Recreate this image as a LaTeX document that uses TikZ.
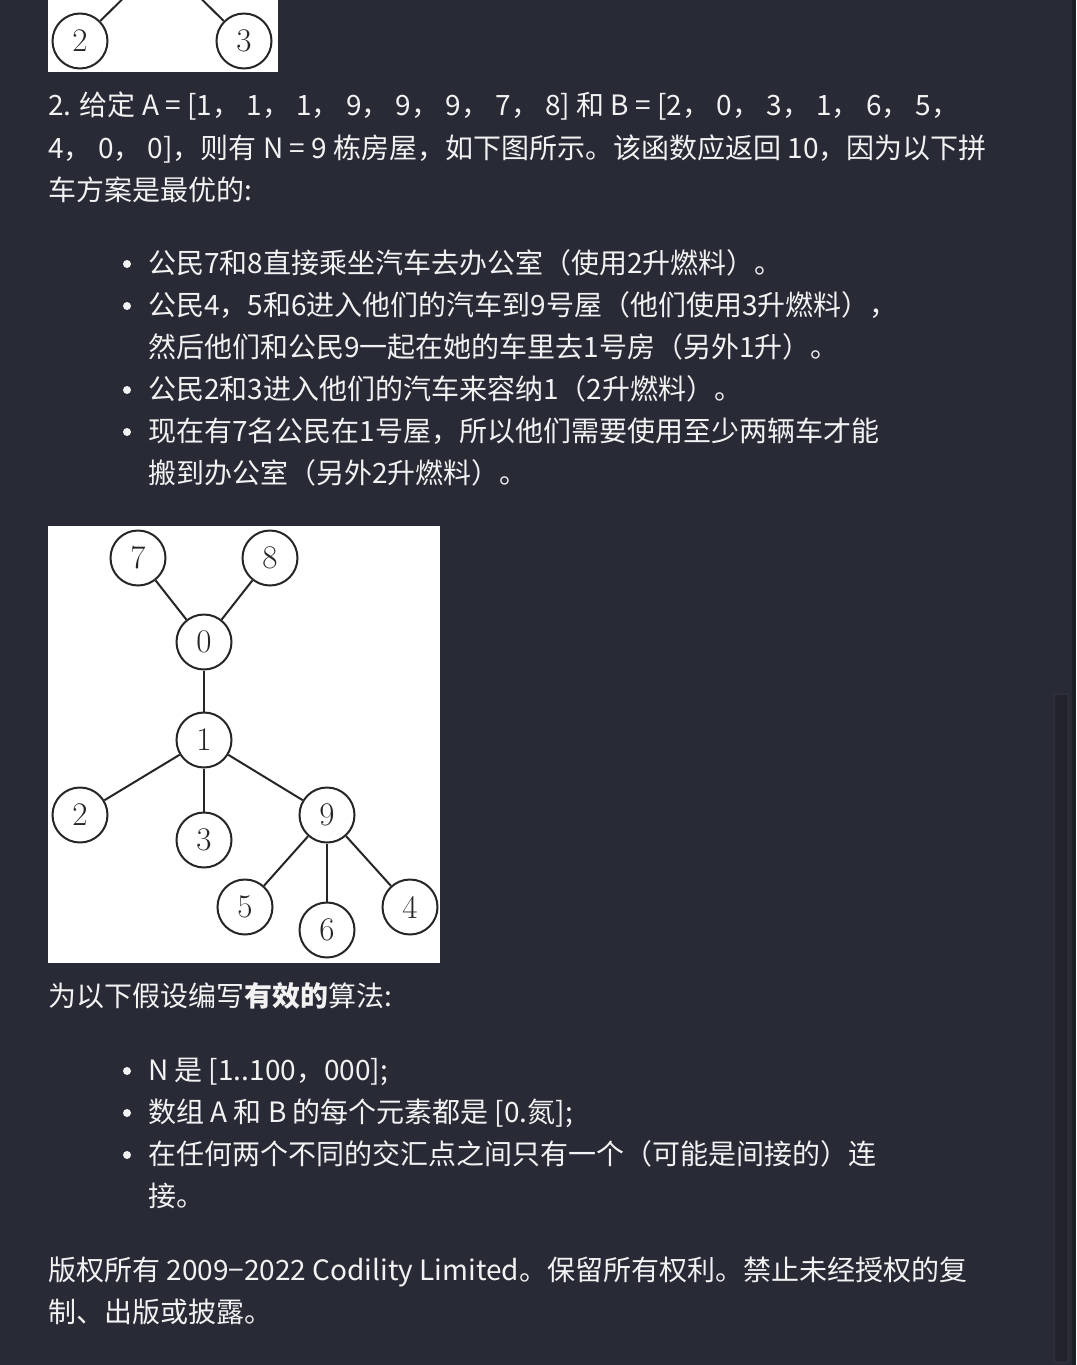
\documentclass[tikz,border=0pt]{standalone}
\usepackage{fontspec}
\setmainfont{Noto Sans CJK SC}
\newfontfamily\lmfont{Latin Modern Roman}
\definecolor{bg}{HTML}{282A36}
\definecolor{fg}{HTML}{F2F2F2}
\definecolor{ink}{HTML}{262626}
\definecolor{sbar}{HTML}{22232C}
\definecolor{sbarline}{HTML}{33353F}
\definecolor{edgestrip}{HTML}{1D1F27}
\begin{document}
\begin{tikzpicture}[x=1pt,y=-1pt,
  txt/.style={anchor=base west, inner sep=0pt, text=fg, font=\fontsize{28}{30}\selectfont},
  dot/.style={circle, fill=fg, minimum size=8pt, inner sep=0pt},
  house/.style={circle, draw=ink, line width=2pt, minimum size=55pt, inner sep=0pt, font=\lmfont\fontsize{33}{33}\selectfont, text=ink},
  edge/.style={draw=ink, line width=2pt}]
\fill[bg] (0,0) rectangle (1076,1365);
\useasboundingbox (0,0) rectangle (1076,1365);
% scrollbar
\fill[edgestrip] (1072,0) rectangle (1076,1365);
\filldraw[fill=sbar, draw=sbarline, line width=1pt, rounded corners=2pt] (1054,694) rectangle (1068,1362);
% top clipped image
\fill[white] (48,0) rectangle (278,72);
\begin{scope}
\clip (48,0) rectangle (278,72);
\node[house] (t2) at (80,41) {2};
\node[house] (t3) at (244,41) {3};
\coordinate (tp) at (162,-40);
\draw[edge] (t2) -- (tp);
\draw[edge] (t3) -- (tp);
\end{scope}
% paragraph 2
\node[txt] (l1) at (48,115) {2. 给定 A = [1， 1， 1， 9， 9， 9， 7， 8] 和 B = [2， 0， 3， 1， 6， 5，};
\node[txt] (l2) at (48,158) {4， 0， 0]，则有 N = 9 栋房屋，如下图所示。该函数应返回 10，因为以下拼};
\node[txt] (l3) at (48,200) {车方案是最优的:};
% bullets
\node[dot] (b1) at (127,264) {};
\node[txt] (s1) at (148,273) {公民7和8直接乘坐汽车去办公室（使用2升燃料）。};
\node[dot] (b2) at (127,306) {};
\node[txt] (s2) at (148,315) {公民4，5和6进入他们的汽车到9号屋（他们使用3升燃料），};
\node[txt] (s2b) at (148,357) {然后他们和公民9一起在她的车里去1号房（另外1升）。};
\node[dot] (b3) at (127,390) {};
\node[txt] (s3) at (148,399) {公民2和3进入他们的汽车来容纳1（2升燃料）。};
\node[dot] (b4) at (127,432) {};
\node[txt] (s4) at (148,441) {现在有7名公民在1号屋，所以他们需要使用至少两辆车才能};
\node[txt] (s4b) at (148,483) {搬到办公室（另外2升燃料）。};
% tree image
\fill[white] (48,526) rectangle (440,963);
\node[house] (n7) at (138,558) {7};
\node[house] (n8) at (270,558) {8};
\node[house] (n0) at (204,642) {0};
\node[house] (n1) at (204,740) {1};
\node[house] (n2) at (80,815) {2};
\node[house] (n3) at (204,840) {3};
\node[house] (n9) at (327,815) {9};
\node[house] (n5) at (245,907) {5};
\node[house] (n6) at (327,930) {6};
\node[house] (n4) at (410,907) {4};
\draw[edge] (n7) -- (n0);
\draw[edge] (n8) -- (n0);
\draw[edge] (n0) -- (n1);
\draw[edge] (n1) -- (n2);
\draw[edge] (n1) -- (n3);
\draw[edge] (n1) -- (n9);
\draw[edge] (n9) -- (n5);
\draw[edge] (n9) -- (n6);
\draw[edge] (n9) -- (n4);
% assumptions
\node[txt] (a0) at (48,1006) {为以下假设编写\textbf{有效的}算法:};
\node[dot] (c1) at (127,1071) {};
\node[txt] (a1) at (148,1080) {N 是 [1..100，000];};
\node[dot] (c2) at (127,1113) {};
\node[txt] (a2) at (148,1122) {数组 A 和 B 的每个元素都是 [0.氮];};
\node[dot] (c3) at (127,1155) {};
\node[txt] (a3) at (148,1164) {在任何两个不同的交汇点之间只有一个（可能是间接的）连};
\node[txt] (a3b) at (148,1206) {接。};
% copyright
\node[txt] (cp1) at (48,1280) {版权所有 2009−2022 Codility Limited。保留所有权利。禁止未经授权的复};
\node[txt] (cp2) at (48,1322) {制、出版或披露。};
\end{tikzpicture}
\end{document}
